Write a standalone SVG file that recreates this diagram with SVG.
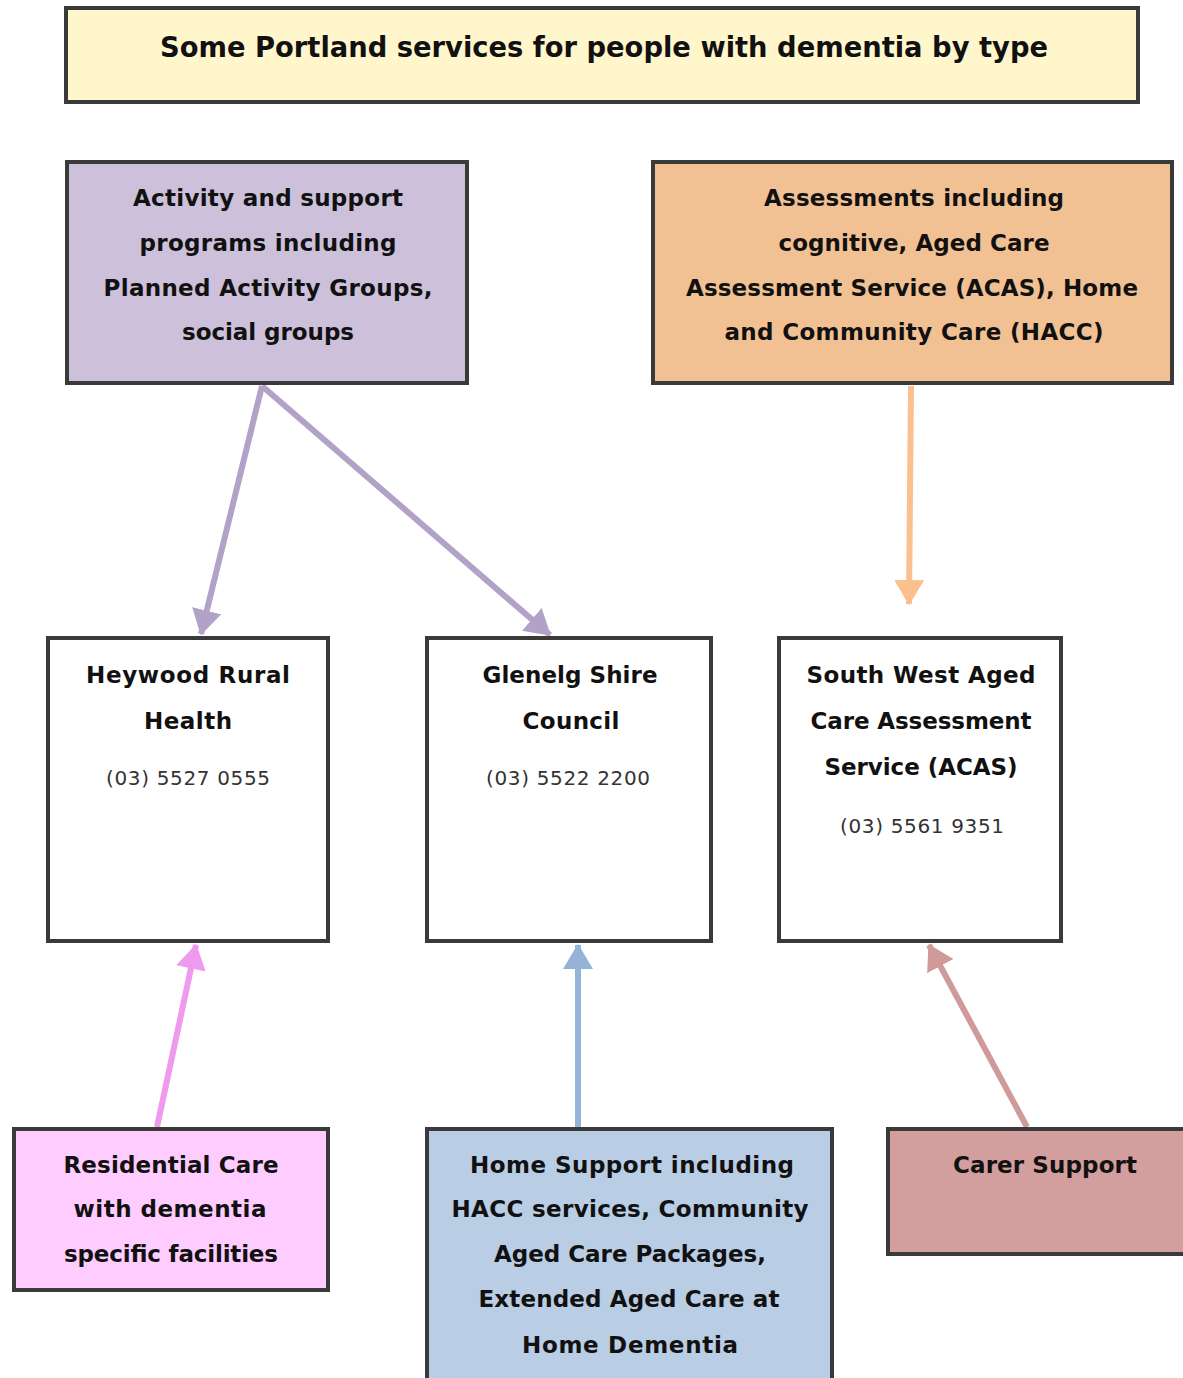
<svg xmlns="http://www.w3.org/2000/svg" width="1183" height="1378" viewBox="0 0 1183 1378">
<style>
.box{stroke:#3a3a3a;stroke-width:4}
.t{font-family:"DejaVu Sans","Liberation Sans",sans-serif;font-weight:bold;font-size:23px;fill:#111;text-anchor:middle}
.ph{font-family:"DejaVu Sans","Liberation Sans",sans-serif;font-size:20px;fill:#333;text-anchor:middle}
.title{font-family:"DejaVu Sans","Liberation Sans",sans-serif;font-weight:bold;font-size:29px;fill:#111;text-anchor:middle}
.c{fill:none;stroke-width:6}
</style>
<defs>
<marker id="mp" markerWidth="5" markerHeight="5" refX="4" refY="2.5" orient="auto" markerUnits="strokeWidth"><path d="M0,0 L4.2,2.5 L0,5 Z" fill="#b3a2c7"/></marker>
<marker id="mo" markerWidth="5" markerHeight="5" refX="4" refY="2.5" orient="auto" markerUnits="strokeWidth"><path d="M0,0 L4.2,2.5 L0,5 Z" fill="#fac090"/></marker>
<marker id="mk" markerWidth="5" markerHeight="5" refX="4" refY="2.5" orient="auto" markerUnits="strokeWidth"><path d="M0,0 L4.2,2.5 L0,5 Z" fill="#ee9aee"/></marker>
<marker id="mb" markerWidth="5" markerHeight="5" refX="4" refY="2.5" orient="auto" markerUnits="strokeWidth"><path d="M0,0 L4.2,2.5 L0,5 Z" fill="#95b3d7"/></marker>
<marker id="mr" markerWidth="5" markerHeight="5" refX="4" refY="2.5" orient="auto" markerUnits="strokeWidth"><path d="M0,0 L4.2,2.5 L0,5 Z" fill="#d09a9a"/></marker>
</defs>
<rect width="1183" height="1378" fill="#fff"/>
<g id="connectors">
<line class="c" x1="262" y1="386" x2="201" y2="634" stroke="#b3a2c7" marker-end="url(#mp)"/>
<line class="c" x1="262" y1="386" x2="550" y2="635" stroke="#b3a2c7" marker-end="url(#mp)"/>
<line class="c" x1="911" y1="386" x2="909" y2="604" stroke="#fac090" marker-end="url(#mo)"/>
<line class="c" x1="157" y1="1127" x2="196" y2="945" stroke="#ee9aee" marker-end="url(#mk)"/>
<line class="c" x1="578" y1="1127" x2="578" y2="945" stroke="#95b3d7" marker-end="url(#mb)"/>
<line class="c" x1="1027" y1="1127" x2="929" y2="945" stroke="#d09a9a" marker-end="url(#mr)"/>
</g>
<g id="title">
<rect class="box" x="66" y="8" width="1072" height="94" fill="#fff6cc"/>
<text class="title" x="604" y="57" textLength="888" lengthAdjust="spacingAndGlyphs">Some Portland services for people with dementia by type</text>
</g>
<g id="activity">
<rect class="box" x="67" y="162" width="400" height="221" fill="#ccc0da"/>
<text class="t" x="268" y="206" textLength="270">Activity and support</text>
<text class="t" x="268" y="251" textLength="257">programs including</text>
<text class="t" x="268" y="296" textLength="329">Planned Activity Groups,</text>
<text class="t" x="268" y="340" textLength="172">social groups</text>
</g>
<g id="assessments">
<rect class="box" x="653" y="162" width="519" height="221" fill="#f2c193"/>
<text class="t" x="914" y="206" textLength="300">Assessments including</text>
<text class="t" x="914" y="251" textLength="271">cognitive, Aged Care</text>
<text class="t" x="912" y="296" textLength="452">Assessment Service (ACAS), Home</text>
<text class="t" x="914" y="340" textLength="379">and Community Care (HACC)</text>
</g>
<g id="heywood">
<rect class="box" x="48" y="638" width="280" height="303" fill="#fff"/>
<text class="t" x="188" y="683" textLength="204">Heywood Rural</text>
<text class="t" x="188" y="729" textLength="88">Health</text>
<text class="ph" x="188" y="785" textLength="164">(03) 5527 0555</text>
</g>
<g id="glenelg">
<rect class="box" x="427" y="638" width="284" height="303" fill="#fff"/>
<text class="t" x="570" y="683" textLength="175">Glenelg Shire</text>
<text class="t" x="571" y="729" textLength="97">Council</text>
<text class="ph" x="568" y="785" textLength="164">(03) 5522 2200</text>
</g>
<g id="southwest">
<rect class="box" x="779" y="638" width="282" height="303" fill="#fff"/>
<text class="t" x="921" y="683" textLength="229">South West Aged</text>
<text class="t" x="921" y="729" textLength="221">Care Assessment</text>
<text class="t" x="921" y="775" textLength="193">Service (ACAS)</text>
<text class="ph" x="922" y="833" textLength="164">(03) 5561 9351</text>
</g>
<g id="residential">
<rect class="box" x="14" y="1129" width="314" height="161" fill="#ffccff"/>
<text class="t" x="171" y="1173" textLength="215">Residential Care</text>
<text class="t" x="170" y="1217" textLength="193">with dementia</text>
<text class="t" x="171" y="1262" textLength="214">specific facilities</text>
</g>
<g id="homesupport">
<rect class="box" x="427" y="1129" width="405" height="260" fill="#b9cde5"/>
<text class="t" x="632" y="1173" textLength="324">Home Support including</text>
<text class="t" x="630" y="1217" textLength="357">HACC services, Community</text>
<text class="t" x="630" y="1262" textLength="272">Aged Care Packages,</text>
<text class="t" x="629" y="1307" textLength="301">Extended Aged Care at</text>
<text class="t" x="630" y="1353" textLength="216">Home Dementia</text>
</g>
<g id="carer">
<rect class="box" x="888" y="1129" width="310" height="125" fill="#d29e9e"/>
<text class="t" x="1045" y="1173" textLength="184">Carer Support</text>
</g>
</svg>
